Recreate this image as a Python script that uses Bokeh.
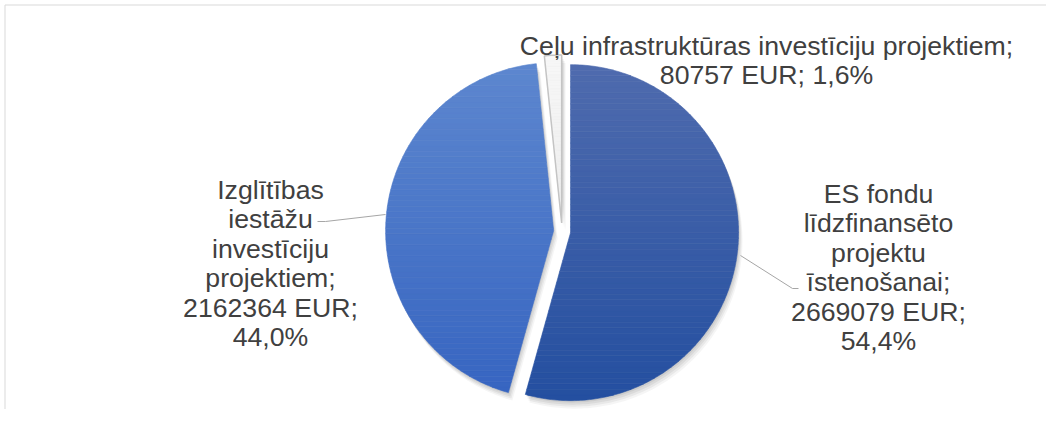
import math
from bokeh.plotting import figure
from bokeh.models import Range1d
from bokeh.core.properties import value
from bokeh.embed import file_html
from bokeh.resources import INLINE

# ---- data ----
categories = ["ES fondu līdzfinansēto projektu īstenošanai",
              "Izglītības iestāžu investīciju projektiem",
              "Ceļu infrastruktūras investīciju projektiem"]
values = [2669079, 2162364, 80757]
percent_labels = ["54,4%", "44,0%", "1,6%"]
label_texts = [
    "ES fondu\nlīdzfinansēto\nprojektu\nīstenošanai;\n2669079 EUR;\n54,4%",
    "Izglītības\niestāžu\ninvestīciju\nprojektiem;\n2162364 EUR;\n44,0%",
    "Ceļu infrastruktūras investīciju projektiem;\n80757 EUR; 1,6%",
]

# ---- style / layout ----
W, H = 1046, 409
top_colors = [(79, 107, 174), (93, 135, 207), (248, 248, 248)]
bot_colors = [(36, 79, 160), (55, 101, 193), (236, 236, 236)]
edge_colors = [None, None, "#C4C4C4"]
TEXT_COLOR = "#404040"
FONT = "Liberation Sans"


def X(px):
    return px


def Y(py):
    return H - py


cx, cy = X(561.6), Y(231)
R = 168
EXPLODE = 8.5

p = figure(width=W, height=H, output_backend="svg", toolbar_location=None,
           x_range=Range1d(0, W), y_range=Range1d(0, H),
           x_axis_type=None, y_axis_type=None, min_border=0)
p.grid.visible = False
p.outline_line_color = None
p.background_fill_color = "white"
p.border_fill_color = "white"

# chart frame (top and left border visible)
p.line([X(4.5), X(4.5), W], [0, Y(4.5), Y(4.5)], line_color="#D9D9D9", line_width=1)


def clip(poly, y0, keep_above):
    out = []
    n = len(poly)
    for i in range(n):
        a = poly[i]
        b = poly[(i + 1) % n]
        ain = a[1] >= y0 if keep_above else a[1] <= y0
        bin_ = b[1] >= y0 if keep_above else b[1] <= y0
        if ain:
            out.append(a)
        if ain != bin_:
            t = (y0 - a[1]) / (b[1] - a[1])
            out.append((a[0] + t * (b[0] - a[0]), y0))
    return out


total = float(sum(values))
cum = 0.0
slices = []
for i, v in enumerate(values):
    f0 = cum / total
    cum += v
    f1 = cum / total
    a0 = math.pi / 2 - 2 * math.pi * f0
    a1 = math.pi / 2 - 2 * math.pi * f1
    mid = (a0 + a1) / 2
    vx = cx + EXPLODE * math.cos(mid)
    vy = cy + EXPLODE * math.sin(mid)
    n = max(4, int(abs(a0 - a1) / math.radians(1)))
    pts = [(vx, vy)]
    for k in range(n + 1):
        a = a0 + (a1 - a0) * k / n
        pts.append((vx + R * math.cos(a), vy + R * math.sin(a)))
    slices.append(pts)

# soft shadow
for dx, dy, al in [(1, -2, 0.06), (2, -4, 0.06), (3, -6, 0.05), (4, -8, 0.04)]:
    for pts in slices:
        p.patch([q[0] + dx for q in pts], [q[1] + dy for q in pts],
                fill_color="black", fill_alpha=al, line_color=None)

# gradient-filled slices (band 0 is the bottom band)
NB = 60
for i, pts in enumerate(slices):
    ys = [q[1] for q in pts]
    ylo, yhi = min(ys), max(ys)
    xs_l, ys_l, cols = [], [], []
    for b in range(NB):
        y0 = ylo + (yhi - ylo) * b / NB
        y1 = ylo + (yhi - ylo) * (b + 1) / NB
        band = clip(clip(pts, y0, True), y1, False)
        if len(band) < 3:
            continue
        t = (b + 0.5) / NB
        c = tuple(int(round(bot_colors[i][k] + (top_colors[i][k] - bot_colors[i][k]) * t))
                  for k in range(3))
        xs_l.append([q[0] for q in band])
        ys_l.append([q[1] for q in band])
        cols.append("#%02x%02x%02x" % c)
    p.patches(xs_l, ys_l, fill_color=cols, line_color=cols, line_width=0.6)
    if edge_colors[i]:
        p.patch([q[0] for q in pts], [q[1] for q in pts], fill_color=None,
                line_color=edge_colors[i], line_width=1.5)

# leader lines
p.line([X(317), X(325), X(385)], [Y(221), Y(221), Y(214)], line_color="#A6A6A6", line_width=1)
p.line([X(740), X(792), X(798)], [Y(255), Y(288), Y(288)], line_color="#A6A6A6", line_width=1)

# labels
label_pos = [(878, 267), (270, 263), (766, 60)]
for txt, (lx, ly) in zip(label_texts, label_pos):
    p.text(x=[X(lx)], y=[Y(ly)], text=[txt], text_align="center", text_baseline="middle",
           text_font=value(FONT), text_font_size="26.67px", text_color=TEXT_COLOR,
           text_line_height=0.98)

open("out.html", "w").write(file_html(p, INLINE))
